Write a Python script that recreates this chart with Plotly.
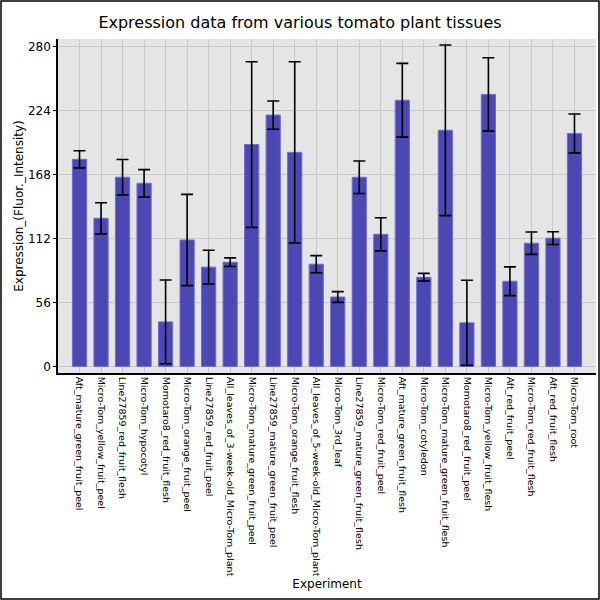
"""
Expression data from various tomato plant tissues - bar chart with error bars
"""

import plotly.graph_objects as go

# Tissue / experiment names (x categories)
EXPERIMENTS = [
    'Aft_mature_green_fruit_peel', 'Micro-Tom_yellow_fruit_peel',
    'Line27859_red_fruit_flesh', 'Micro-Tom_hypocotyl',
    'Momotaro8_red_fruit_flesh', 'Micro-Tom_orange_fruit_peel',
    'Line27859_red_fruit_peel', 'All_leaves_of_3-week-old_Micro-Tom_plant',
    'Micro-Tom_mature_green_fruit_peel', 'Line27859_mature_green_fruit_peel',
    'Micro-Tom_orange_fruit_flesh', 'All_leaves_of_5-week-old_Micro-Tom_plant',
    'Micro-Tom_3rd_leaf', 'Line27859_mature_green_fruit_flesh',
    'Micro-Tom_red_fruit_peel', 'Aft_mature_green_fruit_flesh',
    'Micro-Tom_cotyledon', 'Micro-Tom_mature_green_fruit_flesh',
    'Momotaro8_red_fruit_peel', 'Micro-Tom_yellow_fruit_flesh',
    'Aft_red_fruit_peel', 'Micro-Tom_red_fruit_flesh',
    'Aft_red_fruit_flesh', 'Micro-Tom_root',
]

# Mean expression (fluorescence intensity)
EXPRESSION = [
    181.5, 129.8, 165.8, 160.5, 39.0, 110.8, 87.0, 91.3,
    194.5, 220.3, 187.6, 89.6, 60.8, 165.8, 115.8, 233.3,
    78.1, 207.0, 38.2, 238.4, 74.6, 108.0, 112.4, 204.2,
]

# Error (+/-) for each bar
ERRORS = [
    7.5, 13.6, 15.5, 12.0, 36.7, 40.0, 14.8, 3.8,
    72.6, 12.4, 79.4, 7.5, 4.7, 14.3, 14.5, 32.3,
    3.4, 74.8, 37.3, 32.2, 12.6, 9.8, 5.6, 17.0,
]

Y_TICKS = [0, 56, 112, 168, 224, 280]

FONT = 'DejaVu Sans'
MARGIN = dict(l=58, r=4, t=39, b=227)
W, H = 600, 600

fig = go.Figure()

fig.add_trace(go.Bar(
    x=EXPERIMENTS,
    y=EXPRESSION,
    width=0.66,
    marker=dict(color='rgb(75,71,179)', line=dict(color='rgb(112,108,204)', width=1)),
    error_y=dict(type='data', array=ERRORS, visible=True,
                 color='black', thickness=1.6, width=6),
    hovertemplate='%{x}<br>%{y:.1f}<extra></extra>',
))

# Plot-area geometry, used to place the outer frame in paper coords
pw = W - MARGIN['l'] - MARGIN['r']
ph = H - MARGIN['t'] - MARGIN['b']

fig.add_shape(
    type='rect', xref='paper', yref='paper',
    x0=(1 - MARGIN['l']) / pw, x1=(W - 1 - MARGIN['l']) / pw,
    y0=-(MARGIN['b'] - 1) / ph, y1=1 + (MARGIN['t'] - 1) / ph,
    line=dict(color='black', width=1.5), layer='above',
)

fig.update_layout(
    width=W,
    height=H,
    margin=MARGIN,
    title=dict(text='Expression data from various tomato plant tissues',
               x=0.5, xanchor='center', y=0.963, yanchor='middle',
               font=dict(family=FONT, size=16, color='black')),
    font=dict(family=FONT, size=12, color='black'),
    plot_bgcolor='#E5E5E5',
    paper_bgcolor='white',
    showlegend=False,
    xaxis=dict(
        title=dict(text='Experiment', font=dict(size=12), standoff=4),
        automargin=False,
        tickangle=90,
        tickfont=dict(size=9.5, color='black'),
        range=[-1, 24],
        showgrid=True, gridcolor='#C8C8C8', gridwidth=1,
        showline=True, linecolor='black', linewidth=1.5,
        ticks='', fixedrange=True,
    ),
    yaxis=dict(
        title=dict(text='Expression_(Fluor._Intensity)', font=dict(size=12), standoff=2),
        automargin=False,
        tickmode='array',
        tickvals=Y_TICKS,
        range=[-5.8, 287],
        showgrid=True, gridcolor='#C8C8C8', gridwidth=1,
        zeroline=False,
        showline=True, linecolor='black', linewidth=1.5,
        ticks='outside', ticklen=3, tickcolor='black',
        tickfont=dict(size=12),
    ),
)

# page body has an 8px default margin; drop it so the figure sits at 0,0
fig.write_html('out.html',
               config={'displayModeBar': False},
               post_script="document.body.style.margin='0';document.body.style.overflow='hidden';")
